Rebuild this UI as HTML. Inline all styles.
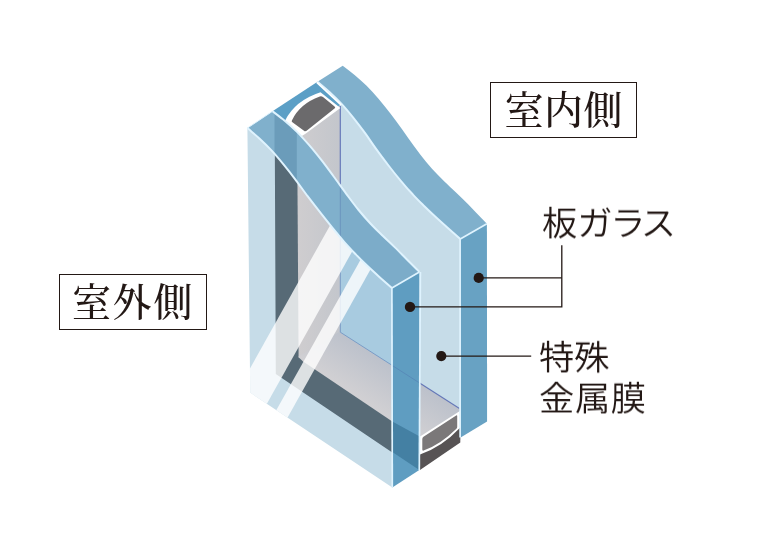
<!DOCTYPE html>
<html lang="ja"><head><meta charset="utf-8"><title>複層ガラス</title>
<style>
html,body{margin:0;padding:0;background:#fff;}
body{width:760px;height:540px;position:relative;overflow:hidden;}
svg{position:absolute;left:0;top:0;}
.box{position:absolute;box-sizing:border-box;border:1.8px solid #231815;color:#231815;
 font-family:"Liberation Serif","Noto Serif CJK JP","Noto Serif CJK SC",serif;font-weight:500;font-size:39px;letter-spacing:1.8px;text-indent:1.8px;line-height:1;will-change:transform;
 text-align:center;white-space:nowrap;}
.box span{position:absolute;left:0;right:0;}
.lbl{position:absolute;color:#231815;font-family:"Liberation Sans","Noto Sans CJK JP",sans-serif;font-weight:350;
 font-size:35.3px;line-height:1;white-space:nowrap;will-change:transform;transform:scaleY(0.96);transform-origin:0 50%;}
</style></head><body>
<svg width="760" height="540" viewBox="0 0 760 540">
<defs><linearGradient id="gTop" gradientUnits="userSpaceOnUse" x1="420" y1="437" x2="444.4" y2="398.9"><stop offset="0" stop-color="#d1d0d3"/><stop offset="1" stop-color="#bcc1cb"/></linearGradient><linearGradient id="gSide" gradientUnits="userSpaceOnUse" x1="298" y1="0" x2="340.3" y2="0"><stop offset="0" stop-color="#cfcdcf"/><stop offset="1" stop-color="#c3c6cc"/></linearGradient></defs>
<polygon points="460.3,238.9 486.9,223.8 487.1,421.4 460.6,437.6" fill="#68a2c3"/>
<path d="M340.3,103.7 L317.5,81.7 C321.5,85.1 325.4,88.2 329.4,91.9 C333.3,95.5 337.3,99.3 341.3,103.6 C345.3,107.9 349.2,112.6 353.2,117.6 C357.1,122.5 361.2,127.8 365.1,133.2 C369.1,138.7 373.0,144.7 377.0,150.1 C380.9,155.6 384.9,160.8 388.9,166.0 C392.8,171.1 396.8,176.1 400.8,180.8 C404.8,185.6 408.7,190.1 412.7,194.3 C416.6,198.6 420.7,202.6 424.6,206.5 C428.6,210.4 432.5,214.1 436.5,217.8 C440.5,221.4 444.5,225.0 448.4,228.5 C452.4,232.0 456.3,235.4 460.3,238.9  L461,437.4 L461,409.0 L340.3,332.2 Z" fill="#c6dce8"/>
<path d="M317.5,81.7 C321.5,85.1 325.4,88.2 329.4,91.9 C333.3,95.5 337.3,99.3 341.3,103.6 C345.3,107.9 349.2,112.6 353.2,117.6 C357.1,122.5 361.2,127.8 365.1,133.2 C369.1,138.7 373.0,144.7 377.0,150.1 C380.9,155.6 384.9,160.8 388.9,166.0 C392.8,171.1 396.8,176.1 400.8,180.8 C404.8,185.6 408.7,190.1 412.7,194.3 C416.6,198.6 420.7,202.6 424.6,206.5 C428.6,210.4 432.5,214.1 436.5,217.8 C440.5,221.4 444.5,225.0 448.4,228.5 C452.4,232.0 456.3,235.4 460.3,238.9  L486.9,223.8 C482.7,219.4 478.4,214.9 474.3,210.7 C470.2,206.4 466.0,202.3 462.0,198.3 C458.0,194.3 454.1,190.7 450.1,186.9 C446.1,183.1 442.2,179.5 438.2,175.3 C434.2,171.1 430.2,166.7 426.2,161.9 C422.2,157.1 418.3,151.8 414.3,146.4 C410.3,141.1 406.4,135.3 402.4,129.8 C398.4,124.3 394.4,118.8 390.4,113.6 C386.4,108.4 382.5,103.3 378.5,98.7 C374.5,94.1 370.6,89.8 366.6,85.8 C362.6,81.8 358.6,78.2 354.6,74.9 C350.6,71.6 346.7,68.8 342.7,65.7  Z" fill="#80b0cc"/>
<polygon points="297.3,134 340.3,105 340.3,332.2 299.40000000000003,358" fill="url(#gSide)"/>
<polygon points="298.6,356 340.3,331.2 460.3,409.0 460.3,440 420,437" fill="url(#gTop)"/>
<polyline points="340.3,106 340.3,332.2 459.5,408.6" fill="none" stroke="#6478b8" stroke-width="1.2"/>
<polygon points="272.5,111.3 317.5,81.7 341,104.6 300,133" fill="#5b9fc6"/>
<path d="M284.9,120.9 Q295,100.5 320.5,92.3 L340.4,108 L305.5,133.8 L301.8,136 Z" fill="#fff"/>
<path d="M291.9,120.4 Q299.5,103.8 319.8,96.4 Q321.5,95.8 323,97 L334.6,106.4 Q335.9,107.6 334.5,108.6 L306.6,130.8 Q305.2,131.8 304,130.7 L292.4,122.2 Q291.3,121.4 291.9,120.4 Z" fill="#6b6a6c"/>
<polygon points="420,436.6 460.3,410.8 460.3,442.5 420,469.9" fill="#fff"/>
<path d="M420,454.5 Q442,447 460.3,427.5 L460.3,442.5 L420,469.9 Z" fill="#575354"/>
<path d="M422.3,439 Q422.3,437.6 423.5,436.8 L456.2,415.4 Q457.2,414.8 457.2,416 L457.2,427 Q457.2,428 456.4,428.8 Q440,445 423.6,450.5 Q422.3,451 422.3,449.6 Z" fill="#7b7879"/>
<clipPath id="face"><path d="M247.4,128.1 C251.4,131.6 255.4,134.8 259.4,138.5 C263.4,142.2 267.5,146.1 271.5,150.4 C275.5,154.7 279.5,159.5 283.5,164.4 C287.5,169.3 291.6,174.5 295.6,179.8 C299.6,185.1 303.6,190.9 307.6,196.2 C311.6,201.5 315.6,206.6 319.6,211.7 C323.6,216.8 327.7,222.0 331.7,226.9 C335.7,231.8 339.7,236.7 343.7,241.3 C347.7,245.9 351.8,250.2 355.8,254.4 C359.8,258.6 363.8,262.5 367.8,266.3 C371.8,270.1 375.9,273.8 379.9,277.4 C383.9,281.0 387.9,284.5 391.9,288.1  L392.3,487.4 L250.2,392.6 Z"/></clipPath>
<path d="M247.4,128.1 C251.4,131.6 255.4,134.8 259.4,138.5 C263.4,142.2 267.5,146.1 271.5,150.4 C275.5,154.7 279.5,159.5 283.5,164.4 C287.5,169.3 291.6,174.5 295.6,179.8 C299.6,185.1 303.6,190.9 307.6,196.2 C311.6,201.5 315.6,206.6 319.6,211.7 C323.6,216.8 327.7,222.0 331.7,226.9 C335.7,231.8 339.7,236.7 343.7,241.3 C347.7,245.9 351.8,250.2 355.8,254.4 C359.8,258.6 363.8,262.5 367.8,266.3 C371.8,270.1 375.9,273.8 379.9,277.4 C383.9,281.0 387.9,284.5 391.9,288.1  L392.3,487.4 L250.2,392.6 Z" fill="#c6dce8"/>
<g clip-path="url(#face)">
<polygon points="274.6,100 301.6,100 301.6,340 345.3,340 420,420 419.3,436.3 419.3,470.6 275.8,374" fill="#576a76"/>
<polygon points="296.90000000000003,100 341.3,100 341.3,333.2 299.20000000000005,358 298.6,357.2" fill="url(#gSide)"/>
<polygon points="298.6,356.4 340.3,331.2 460.3,409.0 460.3,440 420.0,437.6 392.3,421.5 302.8,361.3 298.6,357.2" fill="url(#gTop)"/>
<polygon points="340.3,100 400,100 400,370.4 340.3,332.2" fill="#a8cbe0" stroke="#7a9cc6" stroke-width="1"/>
<polygon points="403.1,95 439.8,95 227.0,475 190.3,475" fill="#fff" fill-opacity="0.8"/>
<polygon points="452.8,95 468.2,95 255.4,475 240.0,475" fill="#fff" fill-opacity="0.8"/>
</g>
<clipPath id="fband"><path d="M247.4,128.1 C251.4,131.6 255.4,134.8 259.4,138.5 C263.4,142.2 267.5,146.1 271.5,150.4 C275.5,154.7 279.5,159.5 283.5,164.4 C287.5,169.3 291.6,174.5 295.6,179.8 C299.6,185.1 303.6,190.9 307.6,196.2 C311.6,201.5 315.6,206.6 319.6,211.7 C323.6,216.8 327.7,222.0 331.7,226.9 C335.7,231.8 339.7,236.7 343.7,241.3 C347.7,245.9 351.8,250.2 355.8,254.4 C359.8,258.6 363.8,262.5 367.8,266.3 C371.8,270.1 375.9,273.8 379.9,277.4 C383.9,281.0 387.9,284.5 391.9,288.1  L419.4,271.9 C415.3,267.9 411.3,263.9 407.2,259.8 C403.1,255.7 399.0,251.4 394.9,247.4 C390.8,243.4 386.8,239.8 382.7,235.8 C378.6,231.8 374.5,227.9 370.4,223.5 C366.3,219.1 362.3,214.5 358.2,209.5 C354.1,204.5 350.0,198.8 345.9,193.3 C341.8,187.8 337.8,182.0 333.7,176.5 C329.6,171.0 325.6,165.4 321.5,160.2 C317.4,155.0 313.3,149.9 309.2,145.2 C305.1,140.5 301.1,136.0 297.0,131.9 C292.9,127.8 288.8,124.1 284.7,120.7 C280.6,117.3 276.6,114.4 272.5,111.3  Z"/></clipPath>
<path d="M247.4,128.1 C251.4,131.6 255.4,134.8 259.4,138.5 C263.4,142.2 267.5,146.1 271.5,150.4 C275.5,154.7 279.5,159.5 283.5,164.4 C287.5,169.3 291.6,174.5 295.6,179.8 C299.6,185.1 303.6,190.9 307.6,196.2 C311.6,201.5 315.6,206.6 319.6,211.7 C323.6,216.8 327.7,222.0 331.7,226.9 C335.7,231.8 339.7,236.7 343.7,241.3 C347.7,245.9 351.8,250.2 355.8,254.4 C359.8,258.6 363.8,262.5 367.8,266.3 C371.8,270.1 375.9,273.8 379.9,277.4 C383.9,281.0 387.9,284.5 391.9,288.1  L419.4,271.9 C415.3,267.9 411.3,263.9 407.2,259.8 C403.1,255.7 399.0,251.4 394.9,247.4 C390.8,243.4 386.8,239.8 382.7,235.8 C378.6,231.8 374.5,227.9 370.4,223.5 C366.3,219.1 362.3,214.5 358.2,209.5 C354.1,204.5 350.0,198.8 345.9,193.3 C341.8,187.8 337.8,182.0 333.7,176.5 C329.6,171.0 325.6,165.4 321.5,160.2 C317.4,155.0 313.3,149.9 309.2,145.2 C305.1,140.5 301.1,136.0 297.0,131.9 C292.9,127.8 288.8,124.1 284.7,120.7 C280.6,117.3 276.6,114.4 272.5,111.3  Z" fill="#80b0cc"/>
<g clip-path="url(#fband)"><rect x="274.5" y="100" width="22.3" height="100" fill="#6b9cba"/><rect x="340.3" y="150" width="100" height="150" fill="#5f93b8" fill-opacity="0.12"/><line x1="340.3" y1="150" x2="340.3" y2="260" stroke="#5b7fb5" stroke-opacity="0.55" stroke-width="1"/></g>
<polygon points="391.9,288.1 419.4,271.9 419.3,469.9 392.3,487.4" fill="#5f9dc1"/>
<polygon points="392.3,421.5 419.3,436.3 419.3,469.9 392.3,451.9" fill="#4480a3"/>
<line x1="392.3" y1="365.5" x2="419.3" y2="382.8" stroke="#4f78b0" stroke-opacity="0.5" stroke-width="1"/>
<path d="M247.4,128.1 C251.4,131.6 255.4,134.8 259.4,138.5 C263.4,142.2 267.5,146.1 271.5,150.4 C275.5,154.7 279.5,159.5 283.5,164.4 C287.5,169.3 291.6,174.5 295.6,179.8 C299.6,185.1 303.6,190.9 307.6,196.2 C311.6,201.5 315.6,206.6 319.6,211.7 C323.6,216.8 327.7,222.0 331.7,226.9 C335.7,231.8 339.7,236.7 343.7,241.3 C347.7,245.9 351.8,250.2 355.8,254.4 C359.8,258.6 363.8,262.5 367.8,266.3 C371.8,270.1 375.9,273.8 379.9,277.4 C383.9,281.0 387.9,284.5 391.9,288.1 " fill="none" stroke="#dff3fe" stroke-width="2"/>
<path d="M272.5,111.3 C276.6,114.4 280.6,117.3 284.7,120.7 C288.8,124.1 292.9,127.8 297.0,131.9 C301.1,136.0 305.1,140.5 309.2,145.2 C313.3,149.9 317.4,155.0 321.5,160.2 C325.6,165.4 329.6,171.0 333.7,176.5 C337.8,182.0 341.8,187.8 345.9,193.3 C350.0,198.8 354.1,204.5 358.2,209.5 C362.3,214.5 366.3,219.1 370.4,223.5 C374.5,227.9 378.6,231.8 382.7,235.8 C386.8,239.8 390.8,243.4 394.9,247.4 C399.0,251.4 403.1,255.7 407.2,259.8 C411.3,263.9 415.3,267.9 419.4,271.9 " fill="none" stroke="#dff3fe" stroke-width="2"/>
<path d="M317.5,81.7 C321.5,85.1 325.4,88.2 329.4,91.9 C333.3,95.5 337.3,99.3 341.3,103.6 C345.3,107.9 349.2,112.6 353.2,117.6 C357.1,122.5 361.2,127.8 365.1,133.2 C369.1,138.7 373.0,144.7 377.0,150.1 C380.9,155.6 384.9,160.8 388.9,166.0 C392.8,171.1 396.8,176.1 400.8,180.8 C404.8,185.6 408.7,190.1 412.7,194.3 C416.6,198.6 420.7,202.6 424.6,206.5 C428.6,210.4 432.5,214.1 436.5,217.8 C440.5,221.4 444.5,225.0 448.4,228.5 C452.4,232.0 456.3,235.4 460.3,238.9 " fill="none" stroke="#dff3fe" stroke-width="2"/>
<line x1="391.9" y1="288.1" x2="392.3" y2="487.4" stroke="#dff3fe" stroke-width="1.7"/>
<line x1="391.9" y1="288.1" x2="419.4" y2="271.9" stroke="#dff3fe" stroke-width="1.7"/>
<line x1="420.4" y1="271.9" x2="419.3" y2="469.9" stroke="#dff3fe" stroke-width="1.7"/>
<line x1="460.29999999999995" y1="238.9074968920557" x2="486.9" y2="223.8" stroke="#dff3fe" stroke-width="1.7"/>
<line x1="460.09999999999997" y1="238.9074968920557" x2="460.1" y2="437.4" stroke="#dff3fe" stroke-width="1.7"/>
<line x1="272.5" y1="111.3" x2="247.4" y2="128.1" stroke="#dff3fe" stroke-width="1"/>
<line x1="316.7" y1="82.30162235094383" x2="341" y2="104.8" stroke="#fff" stroke-width="1.6"/>
<g stroke="#231815" stroke-width="1.3" fill="none"><polyline points="478.7,277.9 561.8,277.9"/><polyline points="410,306.9 561.8,306.9 561.8,245.3"/><polyline points="441.3,356.1 531.2,356.1"/></g>
<g fill="#231815"><circle cx="478.7" cy="277.9" r="5.1"/><circle cx="410" cy="306.9" r="5.2"/><circle cx="441.3" cy="356.1" r="5.1"/></g>
</svg>
<div class="box" style="left:490px;top:82px;width:147px;height:55.8px;letter-spacing:0.4px;text-indent:0.4px;"><span style="top:7.8px;">室内側</span></div>
<div class="box" style="left:59px;top:274px;width:148px;height:56px;"><span style="top:7.8px;left:-1.4px;">室外側</span></div>
<div class="lbl" id="l1" style="left:542px;top:206.3px;font-size:35.3px;font-feature-settings:'palt';">板<span style="letter-spacing:1.9px;">ガ</span><span style="letter-spacing:-1px;">ラ</span>ス</div>
<div class="lbl" id="l2" style="left:539px;top:339.5px;">特殊</div>
<div class="lbl" id="l3" style="left:538.6px;top:380.5px;letter-spacing:0.6px;">金属膜</div>
</body></html>
